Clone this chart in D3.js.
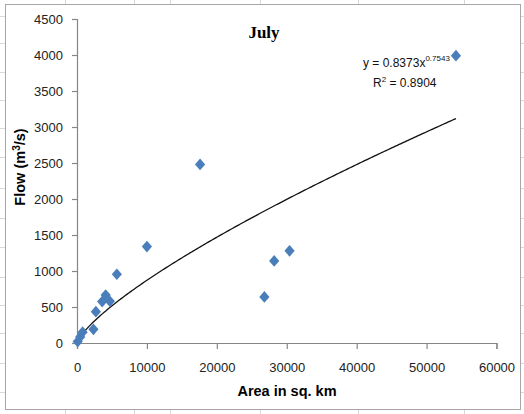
<!DOCTYPE html>
<html>
<head>
<meta charset="utf-8">
<script src="https://cdn.jsdelivr.net/npm/d3@7"></script>
<style>
  html, body { margin: 0; padding: 0; background: #fff; }
  svg { display: block; }
</style>
</head>
<body>
<svg id="chart" width="524" height="414"></svg>
<script>
// Catchment area (sq. km) and July flow (m3/s) for each gauging station
const areaKm2 = [54200, 17600, 10000, 30400, 28200, 26800, 5700, 4100, 3600, 4700, 2700, 2350, 800, 450, 100];
const flowM3s = [3990, 2480, 1340, 1280, 1140, 640, 955, 665, 575, 580, 435, 190, 150, 85, 20];

// Fitted power trendline y = a * x^b
const fitA = 0.8373;
const fitB = 0.7543;
const fitR2 = 0.8904;

const xTicks = [0, 10000, 20000, 30000, 40000, 50000, 60000];
const yTicks = [0, 500, 1000, 1500, 2000, 2500, 3000, 3500, 4000, 4500];

const svg = d3.select("#chart");
const W = 524, H = 414;
const plot = { left: 77, right: 496.5, top: 19, bottom: 343 };

// faint worksheet cell lines around the chart object
const colLines = [65, 134, 170, 260, 358, 464];
const rowLines = [16, 43, 72, 100, 128, 157, 188, 218, 247, 277, 305, 333, 363, 392];
const sheet = svg.append("g").attr("stroke", "#d9d9d9").attr("stroke-width", 1);
colLines.forEach(x => sheet.append("line").attr("x1", x + 0.5).attr("x2", x + 0.5).attr("y1", 0).attr("y2", H));
rowLines.forEach(y => sheet.append("line").attr("x1", 0).attr("x2", W).attr("y1", y + 0.5).attr("y2", y + 0.5));

// chart area with its border
svg.append("rect")
  .attr("x", 5.5).attr("y", 4.5).attr("width", 515).attr("height", 405)
  .attr("fill", "#fff").attr("stroke", "#a6a6a6").attr("stroke-width", 1);

const x = d3.scaleLinear().domain([0, 60000]).range([plot.left, plot.right]);
const y = d3.scaleLinear().domain([0, 4500]).range([plot.bottom, plot.top]);

const tickFont = "'Liberation Sans', Arial, sans-serif";

// y axis
const yAxis = svg.append("g")
  .attr("transform", `translate(${plot.left},0)`)
  .call(d3.axisLeft(y).tickValues(yTicks).tickFormat(d3.format("d")).tickSize(5).tickPadding(9));
// x axis
const xAxis = svg.append("g")
  .attr("transform", `translate(0,${plot.bottom})`)
  .call(d3.axisBottom(x).tickValues(xTicks).tickFormat(d3.format("d")).tickSize(6).tickPadding(14));

[yAxis, xAxis].forEach(g => {
  g.select(".domain").attr("stroke", "#868686").attr("stroke-width", 1.2);
  g.selectAll(".tick line").attr("stroke", "#868686").attr("stroke-width", 1.2);
  g.selectAll(".tick text")
    .attr("fill", "#222")
    .style("font-family", tickFont)
    .style("font-size", "13px");
});

// power trendline across the observed range
const xMin = d3.min(areaKm2), xMax = d3.max(areaKm2);
const trend = d3.range(0, 201).map(i => {
  const a = xMin + (xMax - xMin) * i / 200;
  return [a, fitA * Math.pow(a, fitB)];
});
svg.append("path")
  .datum(trend)
  .attr("fill", "none")
  .attr("stroke", "#111")
  .attr("stroke-width", 1.3)
  .attr("d", d3.line().x(d => x(d[0])).y(d => y(d[1])));

// station markers (diamonds: rotated squares, slightly stretched vertically)
const marker = d3.symbol().type(d3.symbolSquare).size(52);
svg.append("g")
  .selectAll("path")
  .data(areaKm2.map((a, i) => [a, flowM3s[i]]))
  .join("path")
  .attr("d", marker)
  .attr("transform", d => `translate(${x(d[0])},${y(d[1])}) scale(1,1.15) rotate(45)`)
  .attr("fill", "#4a7ebb");

// title
svg.append("text")
  .attr("x", 264).attr("y", 38)
  .attr("text-anchor", "middle")
  .style("font-family", "'Liberation Serif', 'Times New Roman', serif")
  .style("font-weight", "bold")
  .style("font-size", "17px")
  .text("July");

// fitted equation and R²
const eq = svg.append("text")
  .attr("x", 363).attr("y", 67)
  .style("font-family", tickFont)
  .style("font-size", "12px")
  .attr("fill", "#111");
eq.append("tspan").text(`y = ${fitA}x`);
eq.append("tspan").attr("dy", -6).style("font-size", "8px").text(fitB);

const r2 = svg.append("text")
  .attr("x", 373).attr("y", 87)
  .style("font-family", tickFont)
  .style("font-size", "12px")
  .attr("fill", "#111");
r2.append("tspan").text("R");
r2.append("tspan").attr("dy", -5).style("font-size", "8px").text("2");
r2.append("tspan").attr("dy", 5).text(` = ${fitR2}`);

// axis titles
svg.append("text")
  .attr("x", 287).attr("y", 396)
  .attr("text-anchor", "middle")
  .style("font-family", tickFont)
  .style("font-weight", "bold")
  .style("font-size", "14.5px")
  .text("Area in sq. km");

const yt = svg.append("text")
  .attr("transform", "translate(25,167) rotate(-90)")
  .attr("text-anchor", "middle")
  .style("font-family", tickFont)
  .style("font-weight", "bold")
  .style("font-size", "14.5px");
yt.append("tspan").text("Flow (m");
yt.append("tspan").attr("dy", -5).style("font-size", "10px").text("3");
yt.append("tspan").attr("dy", 5).text("/s)");
</script>
</body>
</html>
